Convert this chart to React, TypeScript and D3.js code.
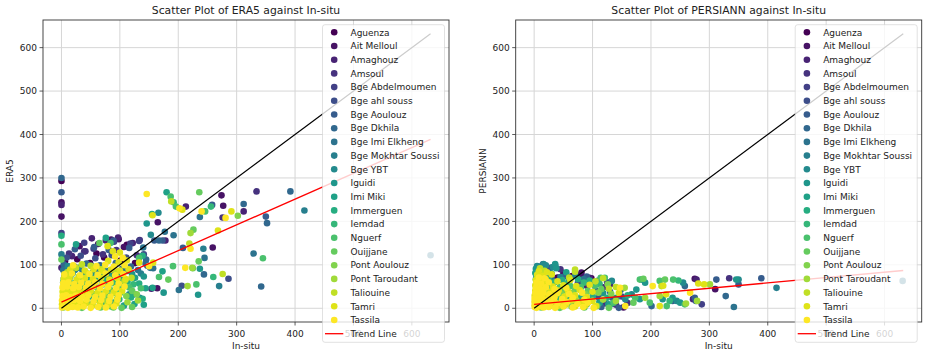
import React from "react";
import * as d3 from "d3";

const stations = [
  "Aguenza", "Ait Melloul", "Amaghouz", "Amsoul", "Bge Abdelmoumen", "Bge ahl souss",
  "Bge Aoulouz", "Bge Dkhila", "Bge Imi Elkheng", "Bge Mokhtar Soussi", "Bge YBT", "Iguidi",
  "Imi Miki", "Immerguen", "Iemdad", "Nguerf", "Ouijjane", "Pont Aoulouz", "Pont Taroudant",
  "Taliouine", "Tamri", "Tassila",
];
const xTicks = [0, 100, 200, 300, 400, 500, 600];
const yTicks = [0, 100, 200, 300, 400, 500, 600];
const insituMax = 632;

// dense cluster: [station index, [[in-situ, product], ...]]
type Group = [number, number[][]];
type Pt = [number, number, number];

const era5Core: Group[] = [
  [0, [[6, 108], [27, 113], [49, 104], [73, 117], [101, 110], [126, 104], [60, 126], [112, 146]]],
  [1, [[31, 143], [63, 148], [107, 141], [85, 158]]],
  [2, [[52, 161], [76, 156], [97, 163], [18, 120]]],
  [3, [[13, 126], [41, 131], [71, 124], [94, 134], [129, 122]]],
  [4, [[39, 151], [90, 153], [118, 149], [133, 155], [55, 137]]],
  [5, [[9, 117], [33, 121], [58, 115], [86, 122], [111, 117], [141, 124]]],
  [6, [[23, 136], [56, 141], [81, 134], [116, 139], [147, 98]]],
  [7, [[4, 101], [21, 97], [43, 103], [66, 99], [93, 104], [119, 96], [144, 103]]],
  [8, [[3, 88], [16, 93], [36, 87], [56, 92], [81, 86], [104, 91], [131, 88], [152, 93]]],
  [9, [[9, 83], [23, 88], [41, 82], [61, 87], [88, 83], [113, 86], [136, 80]]],
  [10, [[11, 97], [29, 93], [51, 98], [71, 92]]],
  [11, [[5, 76], [19, 80], [36, 75], [53, 81], [73, 77], [96, 74], [121, 79], [141, 73]]],
  [12, [[4, 68], [15, 72], [29, 67], [46, 71], [63, 68], [83, 73], [101, 66], [126, 70],
    [5, 8], [21, 12], [37, 7], [53, 11], [71, 9], [89, 13], [107, 6], [125, 10], [141, 8]]],
  [13, [[3, 60], [13, 64], [25, 59], [39, 63], [56, 61], [76, 65], [93, 58], [113, 62], [133, 57],
    [4, 23], [17, 27], [31, 22], [47, 26], [63, 24], [81, 28], [99, 21], [119, 25], [139, 22]]],
  [14, [[6, 53], [21, 57], [35, 52], [51, 56], [69, 54], [87, 58], [106, 51], [123, 55]]],
  [15, [[3, 46], [16, 50], [31, 45], [45, 49], [61, 47], [79, 51], [97, 44], [116, 48], [136, 46]]],
  [16, [[5, 38], [19, 42], [33, 37], [49, 41], [65, 39], [83, 43], [101, 36], [121, 40],
    [3, 2], [19, 4], [35, 1], [51, 5], [67, 2], [85, 4], [103, 1], [121, 3]]],
  [17, [[8, 30], [23, 34], [39, 29], [55, 33], [73, 31], [91, 35], [111, 28], [129, 32]]],
  [18, [[10, 16], [27, 20], [43, 15], [59, 19], [77, 17], [95, 21], [113, 14], [131, 18]]],
  [19, [[35, 101], [50, 98], [25, 93], [68, 90], [10, 83], [45, 80], [95, 84], [30, 73], [120, 70], [108, 63]]],
  [20, [[88, 131], [100, 128], [80, 109], [98, 106], [112, 110], [15, 89], [40, 87], [55, 90], [70, 86],
    [85, 89], [100, 87], [115, 90], [4, 68], [14, 70], [26, 66], [40, 69], [54, 67], [68, 70], [82, 66],
    [96, 69], [110, 67], [2, 38], [9, 40], [18, 36], [28, 39], [38, 37], [50, 40], [62, 36], [76, 39],
    [90, 37], [104, 40], [1, 9], [5, 11], [12, 7], [20, 10], [30, 8], [41, 11], [53, 7], [66, 10],
    [80, 8], [94, 11]]],
  [21, [[92, 119], [105, 116], [20, 99], [60, 97], [75, 100], [90, 96], [108, 99], [5, 78], [18, 80],
    [32, 76], [48, 79], [62, 77], [76, 80], [92, 76], [106, 79], [3, 58], [12, 60], [22, 56], [34, 59],
    [46, 57], [58, 60], [70, 56], [84, 59], [98, 57], [2, 48], [10, 50], [20, 46], [30, 49], [42, 47],
    [54, 50], [66, 46], [80, 49], [94, 47], [108, 50], [2, 28], [8, 30], [16, 26], [25, 29], [35, 27],
    [46, 30], [58, 26], [70, 29], [84, 27], [98, 30], [1, 18], [6, 20], [13, 16], [22, 19], [32, 17],
    [43, 20], [55, 16], [68, 19], [82, 17], [96, 20], [1, 2], [5, 4], [11, 1], [19, 3], [28, 2],
    [38, 4], [50, 1], [63, 3], [76, 2], [90, 4]]],
];

// scattered points: [in-situ, ERA5, station index]
const era5Spread: Pt[] = [
  [0, 300, 7], [0, 293, 0], [0, 267, 6], [0, 244, 1], [0, 238, 2], [0, 211, 1], [0, 173, 4],
  [0, 167, 13], [0, 147, 15], [0, 124, 9], [0, 112, 16], [0, 93, 2],
  [146, 263, 21], [180, 267, 12], [187, 257, 15], [192, 244, 14], [188, 246, 19], [236, 267, 16],
  [274, 260, 1], [334, 269, 3], [392, 269, 7], [416, 225, 9],
  [155, 217, 13], [166, 220, 10], [146, 195, 11], [165, 198, 1], [156, 214, 20], [196, 234, 15],
  [202, 230, 21], [213, 234, 2], [207, 227, 20], [240, 223, 21], [246, 223, 15], [258, 238, 6],
  [256, 234, 14], [277, 236, 1], [276, 209, 3], [281, 208, 21], [291, 223, 20], [302, 213, 17],
  [312, 223, 2], [312, 240, 7], [350, 211, 6], [352, 196, 7], [329, 126, 8], [345, 115, 15],
  [342, 50, 7], [286, 68, 5], [270, 51, 9], [260, 72, 14], [276, 79, 19], [244, 78, 7],
  [245, 116, 8], [243, 137, 9], [237, 91, 11], [224, 93, 18], [212, 93, 21], [191, 97, 15],
  [225, 92, 16], [235, 108, 16], [231, 55, 15], [216, 51, 18], [206, 52, 5], [201, 42, 8],
  [234, 31, 11], [221, 173, 18], [226, 181, 16], [219, 149, 19], [221, 137, 21], [208, 139, 6],
  [259, 140, 1], [237, 210, 8], [268, 179, 20], [183, 66, 16], [167, 72, 15], [175, 36, 11],
  [134, 24, 10], [157, 92, 8], [173, 85, 12], [157, 105, 20], [154, 45, 2], [144, 46, 12],
  [140, 140, 8], [167, 156, 7], [178, 156, 2], [177, 176, 8], [133, 116, 15], [89, 2, 16],
  [153, 169, 10], [159, 156, 6], [173, 156, 6], [192, 168, 8], [116, 32, 10], [125, 32, 11],
  [164, 46, 1], [156, 47, 12], [150, 97, 21], [145, 112, 7], [139, 121, 13], [133, 105, 20],
  [76, 162, 12], [89, 156, 6], [98, 159, 1], [122, 150, 2], [134, 157, 3], [84, 150, 15],
  [65, 150, 16], [79, 143, 20], [25, 147, 12], [39, 131, 3], [632, 122, 8],
];
const era5Trend = [14, 389];

const persiannCore: Group[] = [
  [0, [[40, 71], [65, 74], [98, 69]]],
  [1, [[50, 81], [80, 78]]],
  [2, [[90, 52], [118, 48]]],
  [3, [[22, 87], [45, 90], [120, 11], [140, 8], [160, 12]]],
  [4, [[75, 59], [100, 56], [125, 60]]],
  [5, [[8, 96], [28, 93], [110, 26], [135, 23], [150, 27]]],
  [6, [[55, 76], [90, 73], [115, 3], [145, 1]]],
  [7, [[15, 101], [36, 99], [105, 41], [130, 38], [148, 42]]],
  [8, [[30, 66], [60, 63], [85, 67], [110, 64]]],
  [9, [[4, 73], [20, 76], [45, 72], [70, 75]]],
  [10, [[5, 97], [20, 99], [32, 95]]],
  [11, [[3, 91], [15, 88], [38, 92]]],
  [12, [[2, 81], [12, 84], [30, 80], [55, 83], [4, 11], [15, 9], [30, 12], [48, 8], [68, 11],
    [90, 9], [112, 12], [130, 8]]],
  [13, [[3, 67], [14, 64], [25, 68], [48, 65], [75, 67], [95, 64], [3, 27], [12, 25], [26, 28],
    [42, 24], [60, 27], [80, 25], [100, 28], [125, 24]]],
  [14, [[5, 59], [18, 56], [35, 60], [55, 57], [85, 59], [112, 56]]],
  [15, [[3, 51], [12, 48], [28, 52], [44, 49], [62, 51], [80, 48], [104, 52]]],
  [16, [[6, 43], [20, 40], [36, 44], [52, 41], [70, 43], [92, 40], [115, 44], [2, 4], [12, 2],
    [26, 5], [44, 1], [64, 4], [86, 2], [108, 5], [128, 1]]],
  [17, [[4, 35], [15, 32], [30, 36], [46, 33], [65, 35], [88, 32], [110, 36], [132, 33]]],
  [18, [[5, 19], [18, 16], [34, 20], [52, 17], [72, 19], [95, 16], [118, 20], [140, 17]]],
  [19, [[10, 92], [18, 86], [70, 84], [60, 71], [118, 69]]],
  [20, [[8, 85], [22, 83], [5, 77], [14, 75], [30, 78], [3, 65], [10, 63], [20, 66], [40, 62],
    [62, 65], [2, 53], [8, 51], [18, 54], [32, 50], [50, 53], [72, 51], [95, 54], [2, 41], [8, 39],
    [16, 42], [28, 38], [42, 41], [58, 39], [78, 42], [100, 38], [1, 29], [6, 27], [14, 30], [24, 26],
    [36, 29], [52, 27], [70, 30], [90, 26], [1, 17], [5, 15], [12, 18], [22, 14], [34, 17], [48, 15],
    [64, 18], [82, 14], [100, 17], [1, 7], [4, 5], [10, 8], [18, 4], [28, 7], [40, 5], [54, 8],
    [70, 4], [88, 7], [106, 5]]],
  [21, [[8, 71], [18, 69], [4, 59], [12, 57], [25, 60], [3, 47], [10, 45], [20, 48], [35, 44],
    [55, 47], [2, 35], [8, 33], [16, 36], [26, 32], [40, 35], [60, 33], [82, 36], [1, 23], [6, 21],
    [13, 24], [22, 20], [34, 23], [48, 21], [66, 24], [86, 20], [1, 13], [4, 11], [10, 14], [18, 10],
    [28, 13], [40, 11], [56, 14], [74, 10], [92, 13], [1, 3], [4, 1], [9, 4], [16, 2], [25, 3],
    [36, 1], [50, 4], [66, 2], [84, 3], [102, 1]]],
];

const persiannSpread: Pt[] = [
  [16, 102, 10], [36, 102, 11], [70, 89, 19], [121, 70, 15], [133, 63, 10], [130, 55, 2],
  [147, 47, 21], [140, 49, 19], [155, 47, 18], [181, 66, 15], [187, 68, 16], [190, 59, 11],
  [215, 63, 15], [224, 66, 16], [238, 66, 15], [247, 64, 14], [255, 59, 10], [258, 51, 7],
  [275, 68, 1], [278, 66, 2], [312, 66, 6], [310, 44, 1], [334, 69, 3], [346, 66, 11],
  [350, 66, 10], [350, 55, 6], [389, 69, 6], [415, 47, 9], [631, 63, 8],
  [203, 51, 21], [218, 51, 19], [221, 52, 20], [267, 36, 21], [275, 24, 6], [287, 9, 4],
  [279, 17, 18], [328, 28, 7], [342, 3, 8], [281, 57, 20], [291, 55, 20], [301, 55, 18],
  [272, 21, 2], [277, 17, 6], [260, 11, 18],
  [175, 43, 11], [167, 32, 10], [181, 21, 11], [190, 24, 18], [198, 13, 15], [201, 5, 7],
  [215, 5, 20], [227, 5, 15], [220, 21, 11], [232, 17, 14], [237, 17, 6], [244, 17, 10],
  [258, 9, 15], [250, 13, 11], [237, 24, 11], [215, 28, 18], [226, 32, 20], [156, 21, 10],
  [153, 2, 1], [156, 5, 21], [136, 13, 15], [127, 9, 11], [141, 24, 10], [173, 24, 15],
  [170, 13, 16], [184, 66, 9], [114, 70, 15], [126, 55, 17], [128, 45, 19], [118, 35, 11],
  [112, 15, 9], [145, 35, 20], [160, 30, 13], [53, 74, 6], [81, 82, 1], [95, 70, 2], [105, 62, 19],
];
const persiannTrend = [9, 87];

const FONT = "DejaVu Sans, Verdana, sans-serif";

type PanelProps = {
  left: number;
  title: string;
  ylabel: string;
  core: Group[];
  spread: Pt[];
  trend: number[];
};

function Panel({ left, title, ylabel, core, spread, trend }: PanelProps) {
  const right = left + 406;
  const top = 20;
  const bottom = 322;
  const x = d3.scaleLinear().domain([-31.6, 663.6]).range([left, right]);
  const y = d3.scaleLinear().domain([-31.6, 663.6]).range([bottom, top]);
  const color = (i: number) => d3.interpolateViridis(i / (stations.length - 1));
  const pts: Pt[] = [
    ...spread,
    ...core.flatMap(([s, list]) => list.map((p) => [p[0], p[1], s] as Pt)),
  ];
  const ordered = pts
    .map((p, k) => ({ p, k }))
    .sort((a, b) => a.p[2] - b.p[2] || a.k - b.k)
    .map((d) => d.p);
  const line = d3.line<number[]>().x((d) => x(d[0])).y((d) => y(d[1]));
  const cx = (left + right) / 2;
  const lgX = left + 279.5;
  const lgY = 24.7;
  const step = 13.7;
  return (
    <g>
      <text x={cx} y={14} textAnchor="middle" fontSize={10.8} fontFamily={FONT} fill="#222">
        {title}
      </text>
      {xTicks.map((t) => (
        <line key={"gx" + t} x1={x(t)} x2={x(t)} y1={top} y2={bottom} stroke="#d6d6d6" strokeWidth={1} />
      ))}
      {yTicks.map((t) => (
        <line key={"gy" + t} x1={left} x2={right} y1={y(t)} y2={y(t)} stroke="#d6d6d6" strokeWidth={1} />
      ))}
      {ordered.map((p, i) => (
        <circle key={i} cx={x(p[0])} cy={y(p[1])} r={3.3} fill={color(p[2])} />
      ))}
      <path d={line([[0, 0], [insituMax, insituMax]]) || ""} stroke="#000" strokeWidth={1.2} fill="none" />
      <path d={line([[0, trend[0]], [insituMax, trend[1]]]) || ""} stroke="#f00" strokeWidth={1.3} fill="none" />
      <rect x={left} y={top} width={right - left} height={bottom - top} fill="none" stroke="#333" strokeWidth={0.9} />
      {xTicks.map((t) => (
        <g key={"tx" + t}>
          <line x1={x(t)} x2={x(t)} y1={bottom} y2={bottom + 3.5} stroke="#333" strokeWidth={0.8} />
          <text x={x(t)} y={bottom + 14.5} textAnchor="middle" fontSize={9} fontFamily={FONT} fill="#222">
            {t}
          </text>
        </g>
      ))}
      {yTicks.map((t) => (
        <g key={"ty" + t}>
          <line x1={left - 3.5} x2={left} y1={y(t)} y2={y(t)} stroke="#333" strokeWidth={0.8} />
          <text x={left - 6} y={y(t) + 3.2} textAnchor="end" fontSize={9} fontFamily={FONT} fill="#222">
            {t}
          </text>
        </g>
      ))}
      <text x={cx} y={349} textAnchor="middle" fontSize={9} fontFamily={FONT} fill="#222">
        In-situ
      </text>
      <text
        transform={`translate(${left - 30},${(top + bottom) / 2}) rotate(-90)`}
        textAnchor="middle"
        fontSize={9}
        fontFamily={FONT}
        fill="#222"
      >
        {ylabel}
      </text>
      <rect x={lgX} y={lgY} width={122} height={317.6} rx={2.5} fill="#fff" fillOpacity={0.8} stroke="#d0d0d0" strokeOpacity={0.8} strokeWidth={0.8} />
      {stations.map((s, i) => (
        <g key={s}>
          <circle cx={lgX + 11.7} cy={lgY + 7.6 + i * step} r={3.3} fill={color(i)} />
          <text x={lgX + 28} y={lgY + 7.6 + i * step + 3.2} fontSize={9} fontFamily={FONT} fill="#222">
            {s}
          </text>
        </g>
      ))}
      <line
        x1={lgX + 2.5}
        x2={lgX + 20.8}
        y1={lgY + 7.6 + stations.length * step}
        y2={lgY + 7.6 + stations.length * step}
        stroke="#f00"
        strokeWidth={1.3}
      />
      <text x={lgX + 28} y={lgY + 7.6 + stations.length * step + 3.2} fontSize={9} fontFamily={FONT} fill="#222">
        Trend Line
      </text>
    </g>
  );
}

export default function App() {
  return (
    <svg
      width={927}
      height={357}
      viewBox="0 0 927 357"
      style={{ position: "absolute", left: 0, top: 0, background: "#fff" }}
    >
      <rect x={0} y={0} width={927} height={357} fill="#fff" />
      <Panel left={43} title="Scatter Plot of ERA5 against In-situ" ylabel="ERA5" core={era5Core} spread={era5Spread} trend={era5Trend} />
      <Panel left={515.7} title="Scatter Plot of PERSIANN against In-situ" ylabel="PERSIANN" core={persiannCore} spread={persiannSpread} trend={persiannTrend} />
    </svg>
  );
}
